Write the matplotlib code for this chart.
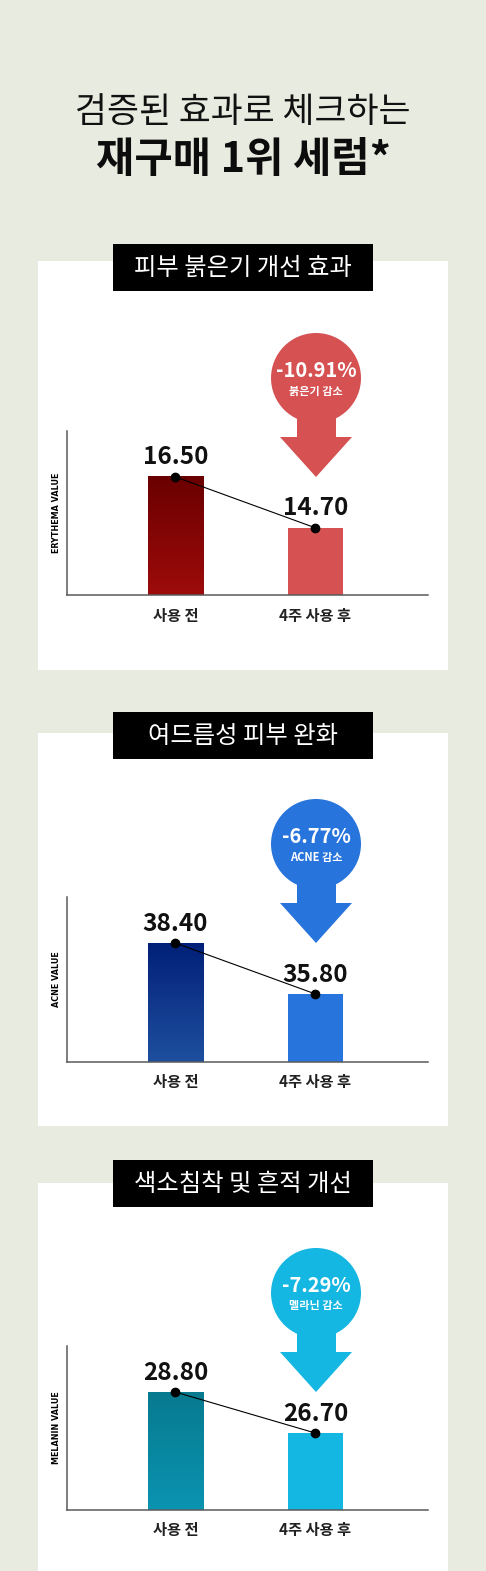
import numpy as np
import matplotlib
matplotlib.use("Agg")
import matplotlib.pyplot as plt
from matplotlib.patches import Rectangle, Circle, Polygon
from matplotlib.colors import LinearSegmentedColormap

plt.rcParams['font.family'] = ['Noto Sans CJK KR', 'DejaVu Sans']

# ---- data ----
headline = "검증된 효과로 체크하는"
headline2 = "재구매 1위 세럼*"
titles = ["피부 붉은기 개선 효과", "여드름성 피부 완화", "색소침착 및 흔적 개선"]
ylabels = ["ERYTHEMA VALUE", "ACNE VALUE", "MELANIN VALUE"]
groups = ["사용 전", "4주 사용 후"]
before = [16.50, 38.40, 28.80]
after = [14.70, 35.80, 26.70]
drops = ["-10.91%", "-6.77%", "-7.29%"]
drop_text = ["붉은기 감소", "ACNE 감소", "멜라닌 감소"]
ybottom = [12.33, 32.33, 22.76]
ytop = [18.12, 40.75, 31.16]

# colours
bgcol = '#e8ebe0'
grad_top = ["#6a0000", "#022078", "#077a8f"]
grad_bot = ["#9e0b0b", "#1e4f9f", "#0a94b1"]
flat = ["#d65152", "#2874dd", "#14b6e2"]

# layout (pixels)
W, H = 486, 1571
panel_top = [261, 733, 1183]
panel_bot = [670, 1126, 1571]
title_cy = [267, 735, 1183]
ax_top = [431, 897, 1346]
ax_base = [595, 1062, 1510]
ax_l, ax_r = 67, 428
arrow_x = 316

fig = plt.figure(figsize=(W/100, H/100), dpi=100)
fig.patch.set_facecolor(bgcol)
bg = fig.add_axes([0, 0, 1, 1])
bg.set_xlim(0, W)
bg.set_ylim(H, 0)
bg.axis('off')

bg.text(W/2, 112, headline, ha='center', va='center', fontsize=25, color='#111111')
bg.text(W/2, 160, headline2, ha='center', va='center', fontsize=30, fontweight='black', color='#0c0c0c')

xpos = np.array([0, 1])
bw = 0.393

for i in range(3):
    bg.add_patch(Rectangle((38, panel_top[i]), 410, panel_bot[i]-panel_top[i], facecolor='white', edgecolor='none'))
    bg.add_patch(Rectangle((113, title_cy[i]-23.5), 260, 47, facecolor='black', edgecolor='none'))
    bg.text(243, title_cy[i]+1, titles[i], ha='center', va='center', fontsize=17.5, color='white', fontweight='medium')

    # down arrow badge
    cy = ax_top[i] - 53
    htop = ax_top[i] + 6
    tip = ax_top[i] + 46
    bg.add_patch(Circle((arrow_x, cy), 45, facecolor=flat[i], edgecolor='none'))
    bg.add_patch(Rectangle((arrow_x-19.5, cy), 39, htop-cy, facecolor=flat[i], edgecolor='none'))
    bg.add_patch(Polygon([(arrow_x-36, htop), (arrow_x+36, htop), (arrow_x, tip)], closed=True, facecolor=flat[i], edgecolor='none'))
    bg.text(arrow_x, cy-8, drops[i], ha='center', va='center', fontsize=14.5, fontweight='bold', color='white')
    bg.text(arrow_x, cy+13, drop_text[i], ha='center', va='center', fontsize=8, fontweight='bold', color='white')

    ax = fig.add_axes([ax_l/W, (H-ax_base[i])/H, (ax_r-ax_l)/W, (ax_base[i]-ax_top[i])/H])
    ax.patch.set_alpha(0)
    ax.bar(xpos[1], after[i], width=bw, color=flat[i], zorder=2)
    cmap = LinearSegmentedColormap.from_list('g', [grad_top[i], grad_bot[i]])
    grad = np.linspace(0, 1, 256).reshape(-1, 1)
    ax.imshow(grad, cmap=cmap, aspect='auto', origin='upper',
              extent=(xpos[0]-bw/2, xpos[0]+bw/2, ybottom[i], before[i]), zorder=2)
    ax.plot(xpos, [before[i], after[i]], color='black', lw=0.8, marker='o', ms=6, zorder=5)
    for x, v in zip(xpos, [before[i], after[i]]):
        ax.annotate(f"{v:.2f}", (x, v), xytext=(0, 9), textcoords='offset points',
                    ha='center', va='baseline', fontsize=17.5, fontweight='bold', color='#111111')
    ax.set_xlim(-0.775, 1.804)
    ax.set_ylim(ybottom[i], ytop[i])
    ax.set_xticks(xpos, groups, fontsize=11, fontweight='bold', color='#222222')
    ax.set_yticks([])
    ax.tick_params(axis='x', length=0, pad=9)
    for s in ['top', 'right']:
        ax.spines[s].set_visible(False)
    for s in ['left', 'bottom']:
        ax.spines[s].set_color('#5a5a5a')
        ax.spines[s].set_linewidth(1.1)
    ax.set_ylabel(ylabels[i], fontsize=5.8, fontweight='bold', labelpad=4, family=['DejaVu Sans'])

fig.savefig('out.png', dpi=100, facecolor=fig.get_facecolor())
